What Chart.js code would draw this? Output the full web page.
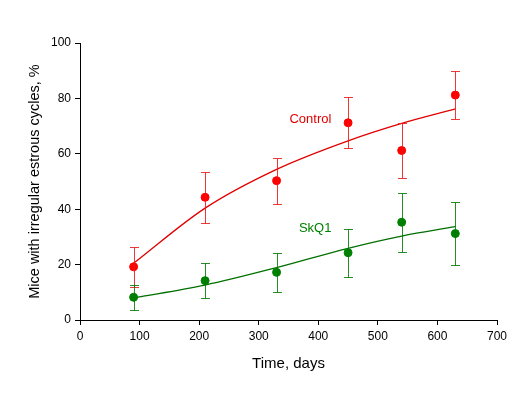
<!DOCTYPE html>
<html><head><meta charset="utf-8">
<script src="https://cdn.jsdelivr.net/npm/chart.js@4/dist/chart.umd.min.js"></script>
<style>html,body{margin:0;padding:0;background:#fff}#wrap{width:527px;height:394px}</style>
</head><body><div id="wrap"><canvas id="c" width="527" height="394"></canvas></div>
<script>
const days = [90, 210, 330, 450, 540, 630];
const controlMean = [19.2, 44.3, 50.3, 71.2, 61.2, 81.2];
const controlHigh = [26.4, 53.4, 58.6, 80.4, 71.2, 89.8];
const controlLow  = [12.0, 35.0, 41.9, 62.0, 51.1, 72.6];
const controlFit  = [20.5, 40.4, 54.4, 64.7, 71.0, 76.2];
const skq1Mean = [8.2, 14.2, 17.2, 24.3, 35.3, 31.2];
const skq1High = [12.6, 20.5, 24.3, 33.0, 45.7, 42.6];
const skq1Low  = [3.6, 7.9, 10.2, 15.4, 24.5, 19.7];
const skq1Fit  = [8.0, 12.6, 18.9, 25.9, 30.3, 33.7];
const xTicks = [0, 100, 200, 300, 400, 500, 600, 700];
const yTicks = [0, 20, 40, 60, 80, 100];

const RED = '#ff0000', GREEN = '#008000';
const FONT = 'Liberation Sans, Arial, sans-serif';

const errorBars = {
  id: 'errorBars',
  afterDatasetsDraw(chart) {
    const {ctx, scales: {x, y}} = chart;
    const sets = [[controlHigh, controlLow, 'rgba(235,20,20,0.85)'], [skq1High, skq1Low, 'rgba(0,120,0,0.85)']];
    ctx.save();
    ctx.lineWidth = 1;
    sets.forEach(([hi, lo, col]) => {
      ctx.strokeStyle = col;
      days.forEach((d, i) => {
        const px = Math.round(x.getPixelForValue(d)) + 0.5;
        const py1 = Math.round(y.getPixelForValue(hi[i])) + 0.5;
        const py2 = Math.round(y.getPixelForValue(lo[i])) + 0.5;
        ctx.beginPath();
        ctx.moveTo(px, py1); ctx.lineTo(px, py2);
        ctx.moveTo(px - 4.5, py1); ctx.lineTo(px + 4.5, py1);
        ctx.moveTo(px - 4.5, py2); ctx.lineTo(px + 4.5, py2);
        ctx.stroke();
      });
    });
    ctx.font = '13px ' + FONT;
    ctx.textAlign = 'right';
    ctx.textBaseline = 'middle';
    ctx.fillStyle = '#e00000';
    ctx.fillText('Control', x.getPixelForValue(422), y.getPixelForValue(72.4));
    ctx.fillStyle = GREEN;
    ctx.fillText('SkQ1', x.getPixelForValue(422), y.getPixelForValue(32.9));
    ctx.restore();
  }
};

const toPts = (xs, ys) => xs.map((v, i) => ({x: v, y: ys[i]}));

new Chart(document.getElementById('c'), {
  type: 'scatter',
  data: {
    datasets: [
      {data: toPts(days, controlFit), showLine: true, borderColor: '#e00000', borderWidth: 1.3, pointRadius: 0, cubicInterpolationMode: 'monotone', order: 3},
      {data: toPts(days, skq1Fit), showLine: true, borderColor: '#007000', borderWidth: 1.3, pointRadius: 0, cubicInterpolationMode: 'monotone', order: 3},
      {data: toPts(days, controlMean), showLine: false, backgroundColor: RED, borderColor: RED, pointRadius: 4, order: 1},
      {data: toPts(days, skq1Mean), showLine: false, backgroundColor: GREEN, borderColor: GREEN, pointRadius: 4, order: 1}
    ]
  },
  options: {
    responsive: false,
    animation: false,
    devicePixelRatio: 1,
    layout: {padding: {top: 43, right: 30, left: 0, bottom: 0}},
    plugins: {legend: {display: false}, tooltip: {enabled: false}},
    scales: {
      x: {
        type: 'linear', min: 0, max: 700,
        afterBuildTicks: s => { s.ticks = xTicks.map(v => ({value: v})); },
        afterFit: s => { s.height = 74; },
        grid: {drawOnChartArea: false, drawTicks: true, tickLength: 5, color: '#000'},
        border: {color: '#000', width: 1},
        ticks: {color: '#000', font: {family: FONT, size: 12}, padding: 4, maxRotation: 0},
        title: {display: true, text: 'Time, days', color: '#000', font: {family: FONT, size: 15}, padding: {top: 0, bottom: 21}}
      },
      y: {
        type: 'linear', min: 0, max: 100,
        afterBuildTicks: s => { s.ticks = yTicks.map(v => ({value: v})); },
        afterFit: s => { s.width = 80; },
        grid: {drawOnChartArea: false, drawTicks: true, tickLength: 5, color: '#000'},
        border: {color: '#000', width: 1},
        ticks: {color: '#000', font: {family: FONT, size: 12}, padding: 4},
        title: {display: true, text: 'Mice with irregular estrous cycles, %', color: '#000', font: {family: FONT, size: 14.5}, padding: {top: 26, bottom: 0}}
      }
    }
  },
  plugins: [errorBars]
});
</script></body></html>
